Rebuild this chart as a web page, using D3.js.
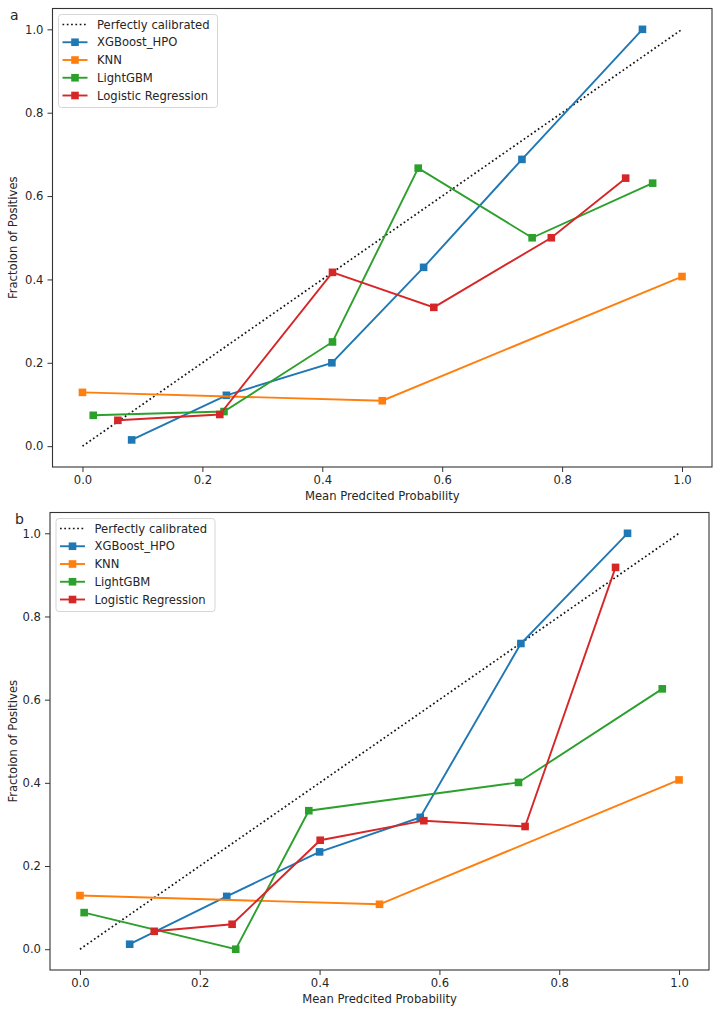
<!DOCTYPE html>
<html>
<head>
<meta charset="utf-8">
<script src="https://cdn.jsdelivr.net/npm/d3@7"></script>
<style>
    body { margin: 0; background: #fff; }
    text { font-family: "DejaVu Sans", sans-serif; fill: #262626; }
</style>
</head>
<body>
<div id="chart"></div>
<script>

// model names and colours (matplotlib tab10 order)
var modelNames = ["XGBoost_HPO", "KNN", "LightGBM", "Logistic Regression"];
var modelColors = ["#1f77b4", "#ff7f0e", "#2ca02c", "#d62728"];
var refLabel = "Perfectly calibrated";

var tickValues = [0.0, 0.2, 0.4, 0.6, 0.8, 1.0];
var xLabel = "Mean Predcited Probability";
var yLabel = "Fractoion of Positives";
var panelLetters = ["a", "b"];

// panel a - mean predicted probability / fraction of positives
var aXgbX = [0.082, 0.240, 0.416, 0.569, 0.733, 0.934];
var aXgbY = [0.015, 0.122, 0.200, 0.429, 0.688, 1.000];
var aKnnX = [0.000, 0.500, 1.000];
var aKnnY = [0.129, 0.109, 0.407];
var aLgbX = [0.018, 0.236, 0.417, 0.560, 0.750, 0.951];
var aLgbY = [0.074, 0.083, 0.250, 0.667, 0.500, 0.631];
var aLrX  = [0.059, 0.229, 0.417, 0.586, 0.782, 0.906];
var aLrY  = [0.062, 0.076, 0.417, 0.333, 0.500, 0.643];

// panel b
var bXgbX = [0.083, 0.245, 0.400, 0.568, 0.736, 0.914];
var bXgbY = [0.012, 0.127, 0.234, 0.317, 0.735, 1.000];
var bKnnX = [0.000, 0.500, 1.000];
var bKnnY = [0.129, 0.108, 0.407];
var bLgbX = [0.007, 0.260, 0.382, 0.732, 0.972];
var bLgbY = [0.088, 0.000, 0.333, 0.401, 0.626];
var bLrX  = [0.124, 0.254, 0.401, 0.574, 0.743, 0.894];
var bLrY  = [0.043, 0.060, 0.262, 0.309, 0.295, 0.918];

var FONT = "11.6px";

function zipPts(xs, ys) {
    return xs.map(function(x, i) { return { x: x, y: ys[i] }; });
}

var svg = d3.select("#chart").append("svg")
    .attr("width", 720)
    .attr("height", 1015);

/*
 * CalibrationVis - one calibration panel
 * @param _svg: root svg
 * @param _box: axes box in page pixels
 * @param _series: list of point arrays, one per model
 * @param _letter: panel letter
 */
CalibrationVis = function(_svg, _box, _series, _letter){
    this.svg = _svg;
    this.box = _box;
    this.series = _series;
    this.letter = _letter;

    this.initVis();
}

CalibrationVis.prototype.initVis = function(){
    var vis = this;

    vis.width = vis.box.right - vis.box.left;
    vis.height = vis.box.bottom - vis.box.top;

    vis.g = vis.svg.append("g")
        .attr("transform", "translate(" + vis.box.left + "," + vis.box.top + ")");

    vis.x = d3.scaleLinear().domain([-0.05, 1.05]).range([0, vis.width]);
    vis.y = d3.scaleLinear().domain([-0.05, 1.05]).range([vis.height, 0]);

    vis.xAxis = d3.axisBottom(vis.x).tickValues(tickValues).tickFormat(d3.format(".1f"))
        .tickSize(5).tickPadding(4);
    vis.yAxis = d3.axisLeft(vis.y).tickValues(tickValues).tickFormat(d3.format(".1f"))
        .tickSize(5).tickPadding(4);

    vis.updateVis();
};

CalibrationVis.prototype.updateVis = function(){
    var vis = this;

    var line = d3.line()
        .x(function(d) { return vis.x(d.x); })
        .y(function(d) { return vis.y(d.y); });

    // perfectly calibrated diagonal
    vis.g.append("path")
        .datum([{ x: 0, y: 0 }, { x: 1, y: 1 }])
        .attr("d", line)
        .attr("fill", "none")
        .attr("stroke", "#111")
        .attr("stroke-width", 1.7)
        .attr("stroke-dasharray", "1.7,2.6");

    vis.series.forEach(function(pts, i) {
        vis.g.append("path")
            .datum(pts)
            .attr("d", line)
            .attr("fill", "none")
            .attr("stroke", modelColors[i])
            .attr("stroke-width", 1.9);

        vis.g.selectAll(".m" + i)
            .data(pts)
            .enter()
            .append("rect")
            .attr("class", "m" + i)
            .attr("x", function(d) { return vis.x(d.x) - 3.8; })
            .attr("y", function(d) { return vis.y(d.y) - 3.8; })
            .attr("width", 7.6)
            .attr("height", 7.6)
            .attr("fill", modelColors[i]);
    });

    // axes
    var xg = vis.g.append("g")
        .attr("transform", "translate(0," + vis.height + ")")
        .call(vis.xAxis);
    var yg = vis.g.append("g").call(vis.yAxis);
    [xg, yg].forEach(function(a) {
        a.select(".domain").remove();
        a.selectAll("line").attr("stroke", "#333");
        a.selectAll("text").style("font-size", FONT).style("fill", "#262626");
    });

    // frame
    vis.g.append("rect")
        .attr("width", vis.width)
        .attr("height", vis.height)
        .attr("fill", "none")
        .attr("stroke", "#333")
        .attr("stroke-width", 1.1);

    vis.g.append("text")
        .attr("x", vis.width / 2)
        .attr("y", vis.height + 33)
        .attr("text-anchor", "middle")
        .style("font-size", FONT)
        .text(xLabel);

    vis.g.append("text")
        .attr("transform", "translate(" + (vis.box.labelX - vis.box.left) + "," + (vis.height / 2) + ") rotate(-90)")
        .attr("text-anchor", "middle")
        .style("font-size", FONT)
        .text(yLabel);

    vis.svg.append("text")
        .attr("x", vis.box.letterX)
        .attr("y", vis.box.top + 11)
        .style("font-size", "14px")
        .text(vis.letter);

    // legend
    var leg = vis.g.append("g").attr("transform", "translate(6,6)");
    leg.append("rect")
        .attr("width", 159)
        .attr("height", 93)
        .attr("rx", 3)
        .attr("fill", "#fff")
        .attr("fill-opacity", 0.8)
        .attr("stroke", "#d6d6d6");

    var rows = [refLabel].concat(modelNames);
    rows.forEach(function(name, i) {
        var ry = 10 + i * 17.75;
        var r = leg.append("g").attr("transform", "translate(0," + ry + ")");
        if (i == 0) {
            r.append("line")
                .attr("x1", 4).attr("x2", 29)
                .attr("stroke", "#111")
                .attr("stroke-width", 1.7)
                .attr("stroke-dasharray", "1.7,2.6");
        } else {
            r.append("line")
                .attr("x1", 4).attr("x2", 29)
                .attr("stroke", modelColors[i - 1])
                .attr("stroke-width", 1.9);
            r.append("rect")
                .attr("x", 16.5 - 3.8).attr("y", -3.8)
                .attr("width", 7.6).attr("height", 7.6)
                .attr("fill", modelColors[i - 1]);
        }
        r.append("text")
            .attr("x", 38.5)
            .attr("y", 4)
            .style("font-size", FONT)
            .text(name);
    });
};

var panelA = new CalibrationVis(svg,
    { left: 52.5, right: 712, top: 8.5, bottom: 467, letterX: 10, labelX: 17 },
    [zipPts(aXgbX, aXgbY), zipPts(aKnnX, aKnnY), zipPts(aLgbX, aLgbY), zipPts(aLrX, aLrY)],
    panelLetters[0]);

var panelB = new CalibrationVis(svg,
    { left: 50, right: 709, top: 512.5, bottom: 970, letterX: 15, labelX: 17 },
    [zipPts(bXgbX, bXgbY), zipPts(bKnnX, bKnnY), zipPts(bLgbX, bLgbY), zipPts(bLrX, bLrY)],
    panelLetters[1]);

</script>
</body>
</html>
